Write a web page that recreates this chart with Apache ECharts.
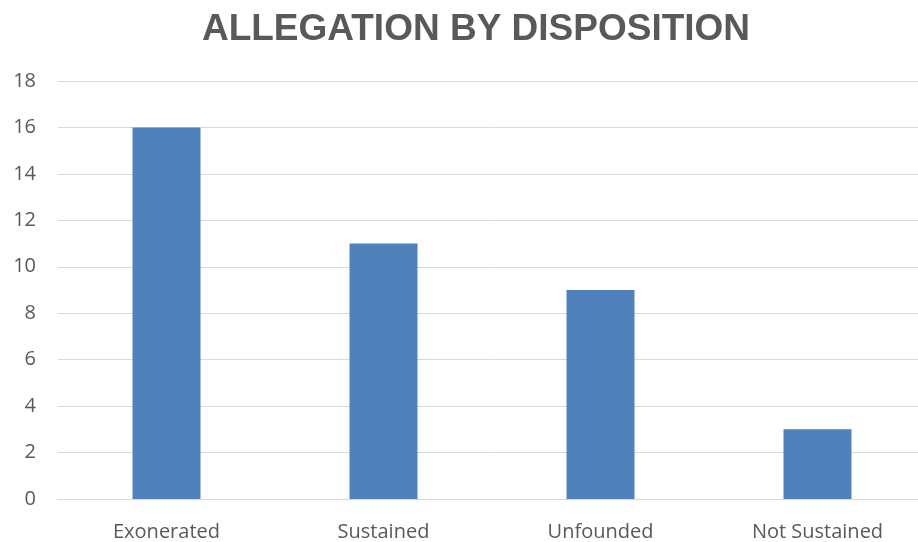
<!DOCTYPE html>
<html>
<head>
<meta charset="utf-8">
<script src="https://cdn.jsdelivr.net/npm/echarts@6/dist/echarts.min.js"></script>
<style>html,body{margin:0;padding:0;background:#fff}#c{width:918px;height:542px}</style>
</head>
<body>
<div id="c"></div>
<script>
const categories = ['Exonerated', 'Sustained', 'Unfounded', 'Not Sustained'];
const values = [16, 11, 9, 3];
const yTicks = [0, 2, 4, 6, 8, 10, 12, 14, 16, 18];

const chart = echarts.init(document.getElementById('c'));
chart.setOption({
  animation: false,
  title: {
    text: 'ALLEGATION BY DISPOSITION',
    left: 471, top: 6, textAlign: 'center',
    textStyle: { fontFamily: 'Liberation Sans', fontWeight: 'bold', fontSize: 37, color: '#595959' }
  },
  grid: { left: 58, top: 81, width: 868, height: 418, containLabel: false, outerBoundsMode: 'none' },
  xAxis: {
    type: 'category', data: categories,
    axisTick: { show: false },
    axisLine: { lineStyle: { color: '#d9d9d9' } },
    axisLabel: { margin: 23, fontFamily: 'Open Sans', fontSize: 20, color: '#595959' }
  },
  yAxis: {
    type: 'value', min: yTicks[0], max: yTicks[yTicks.length - 1], interval: 2,
    axisLine: { show: false }, axisTick: { show: false },
    splitLine: { lineStyle: { color: '#d9d9d9' } },
    axisLabel: { margin: 22, fontFamily: 'Open Sans', fontSize: 20, color: '#595959' }
  },
  series: [{
    type: 'bar', data: values, barWidth: 68,
    itemStyle: { color: '#4f81bd' }
  }]
});
</script>
</body>
</html>
